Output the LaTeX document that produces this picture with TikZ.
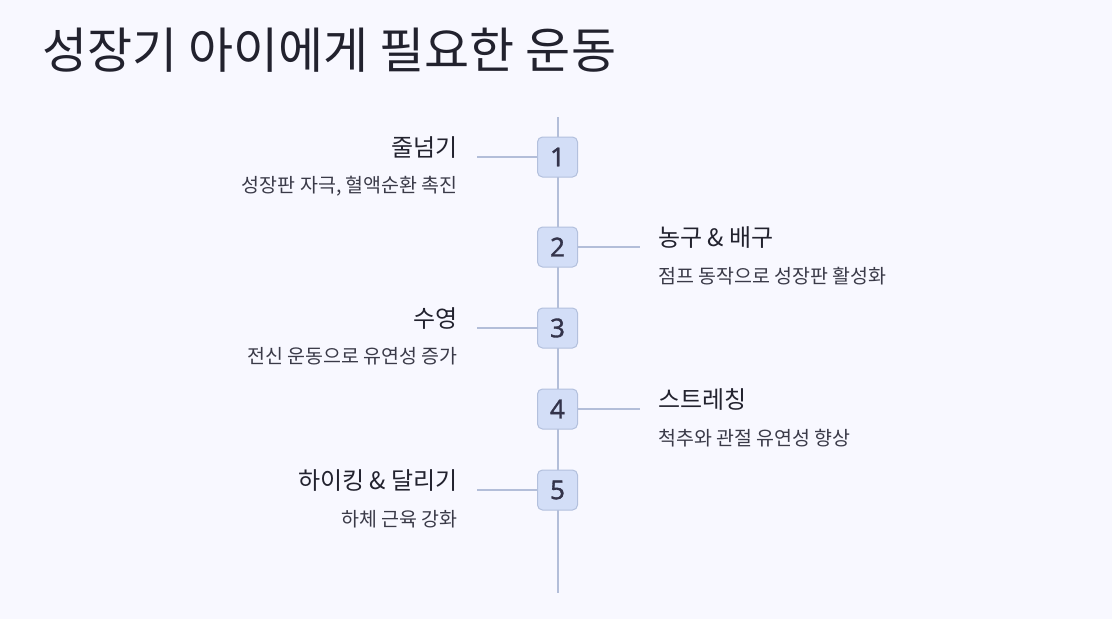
\documentclass[tikz,border=0pt]{standalone}
\usepackage{fontspec}
\setmainfont{Noto Sans CJK KR}
\newfontfamily\numfont[FakeBold=1.2]{Noto Sans}
\definecolor{bg}{HTML}{F8F8FF}
\definecolor{boxfill}{HTML}{D3DEF7}
\definecolor{boxline}{HTML}{B3C0DD}
\definecolor{conn}{HTML}{B3BED9}
\definecolor{txt}{HTML}{22222E}
\definecolor{subtxt}{HTML}{3A3A48}
\definecolor{numtxt}{HTML}{33334A}
\begin{document}
\begin{tikzpicture}[x=1pt,y=-1pt,
  numbox/.style={draw=boxline,fill=boxfill,rounded corners=5pt,minimum width=40pt,minimum height=40pt,inner sep=0pt,line width=1pt,text=numtxt,font=\numfont\fontsize{26}{28}\selectfont},
  conline/.style={draw=conn,line width=2pt},
  ltitle/.style={anchor=east,text=txt,font=\fontsize{24}{26}\selectfont,inner sep=0pt},
  rtitle/.style={anchor=west,text=txt,font=\fontsize{24}{26}\selectfont,inner sep=0pt},
  lsub/.style={anchor=east,text=subtxt,font=\fontsize{19.5}{21}\selectfont,inner sep=0pt},
  rsub/.style={anchor=west,text=subtxt,font=\fontsize{19.5}{21}\selectfont,inner sep=0pt}]
\fill[bg] (0,0) rectangle (1112,619);
\useasboundingbox (0,0) rectangle (1112,619);
\node[anchor=west,text=txt,font=\fontsize{49}{54}\selectfont,inner sep=0pt] (title) at (42,50) {성장기 아이에게 필요한 운동};
\coordinate (top) at (557.5,117);
\coordinate (bot) at (557.5,593);
\draw[conline] (top) -- (bot);
\node[numbox] (n1) at (557.5,157) {1};
\node[numbox] (n2) at (557.5,247) {2};
\node[numbox] (n3) at (557.5,328) {3};
\node[numbox] (n4) at (557.5,409) {4};
\node[numbox] (n5) at (557.5,490) {5};
\coordinate (l1) at (477,157);
\coordinate (r2) at (640,247);
\coordinate (l3) at (477,328);
\coordinate (r4) at (640,409);
\coordinate (l5) at (477,490);
\draw[conline] (l1) -- (n1.west);
\draw[conline] (n2.east) -- (r2);
\draw[conline] (l3) -- (n3.west);
\draw[conline] (n4.east) -- (r4);
\draw[conline] (l5) -- (n5.west);
\node[ltitle] (t1) at (458,148) {줄넘기};
\node[lsub] (s1) at (458,186) {성장판 자극, 혈액순환 촉진};
\node[rtitle] (t2) at (658,238) {농구 \& 배구};
\node[rsub] (s2) at (658,276) {점프 동작으로 성장판 활성화};
\node[ltitle] (t3) at (458,319) {수영};
\node[lsub] (s3) at (458,356) {전신 운동으로 유연성 증가};
\node[rtitle] (t4) at (658,400) {스트레칭};
\node[rsub] (s4) at (658,438) {척추와 관절 유연성 향상};
\node[ltitle] (t5) at (458,481) {하이킹 \& 달리기};
\node[lsub] (s5) at (458,519) {하체 근육 강화};
\end{tikzpicture}
\end{document}
